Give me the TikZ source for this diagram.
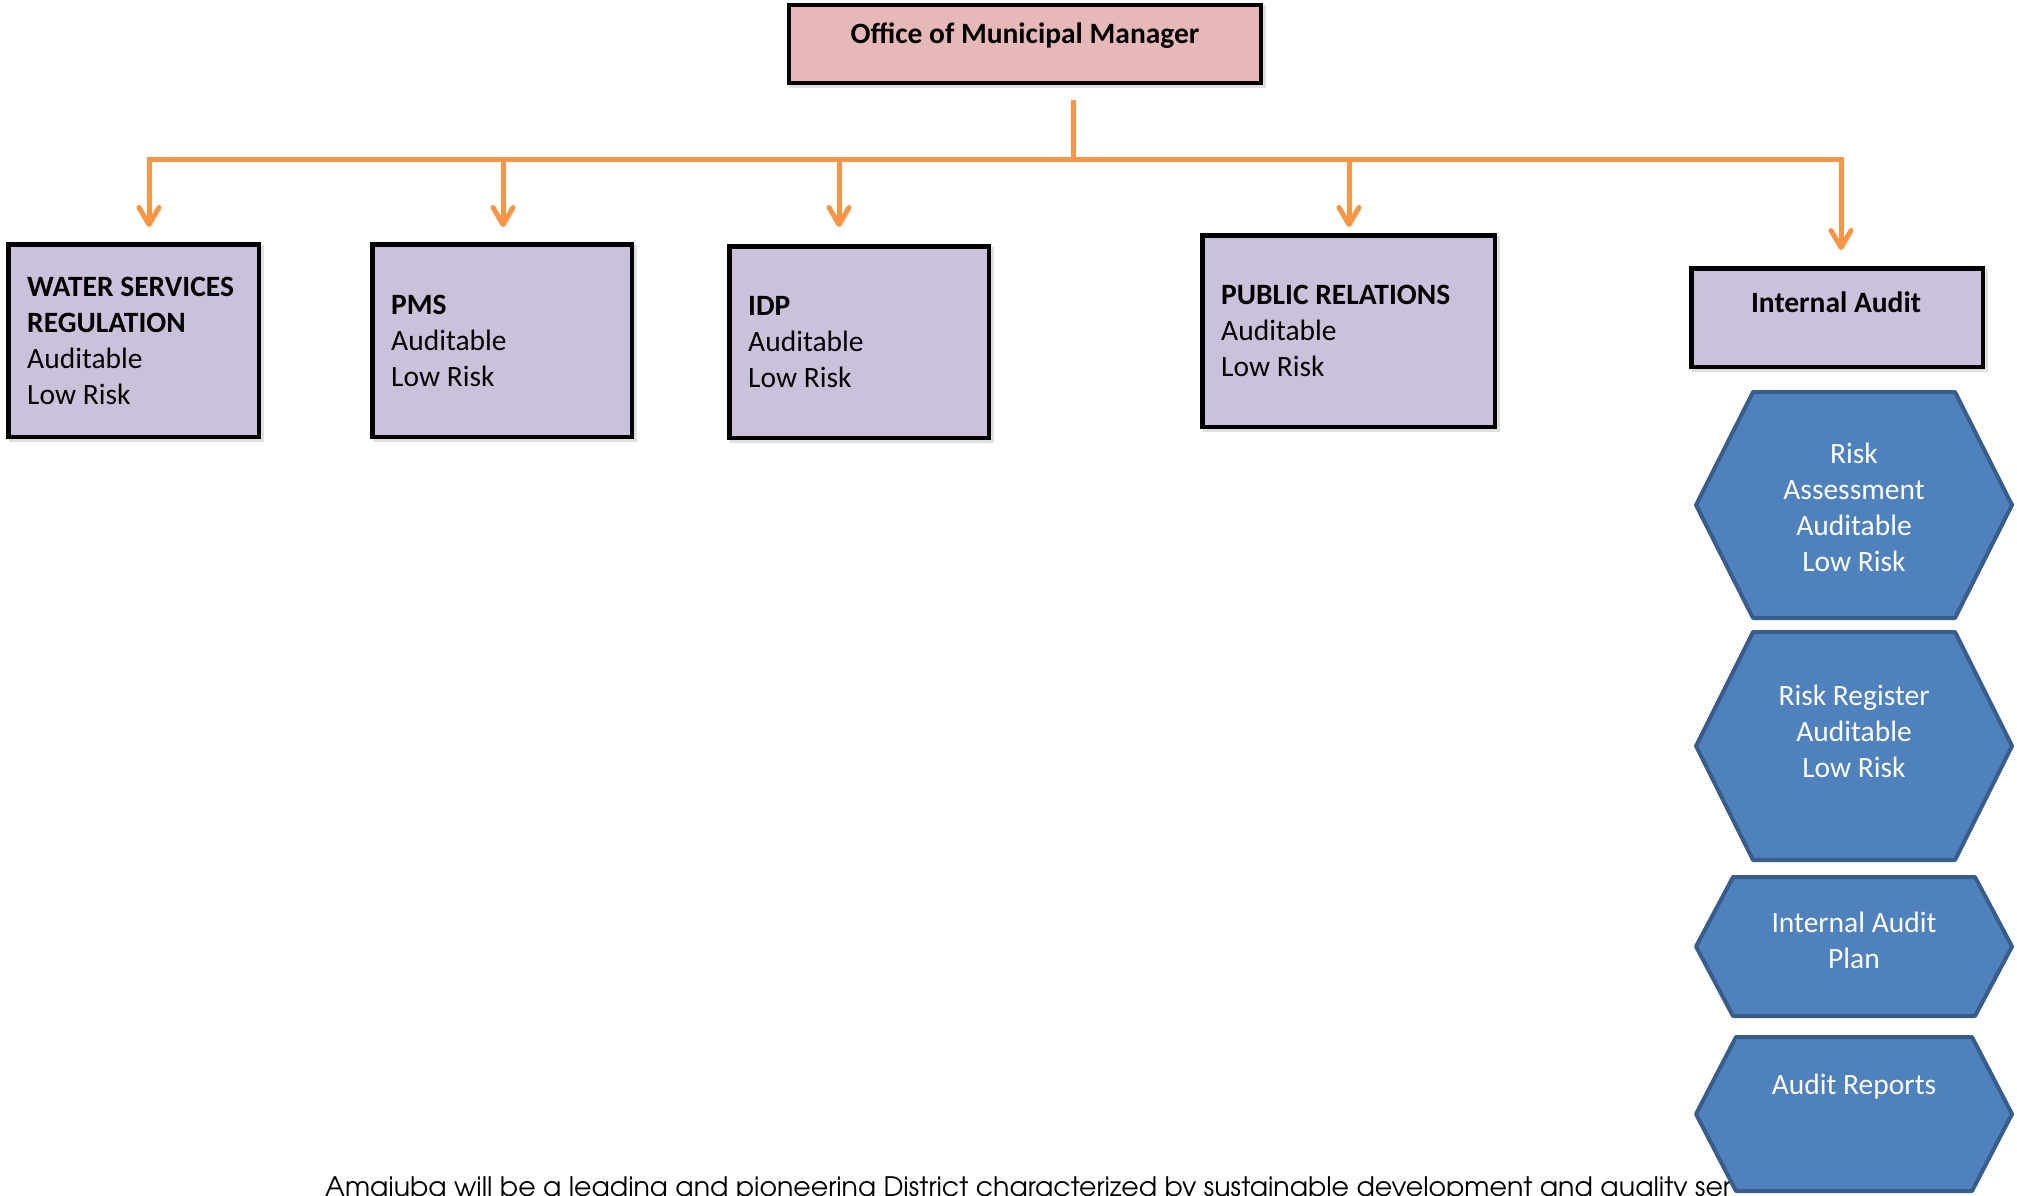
\documentclass[tikz,border=0pt]{standalone}
\usepackage{fontspec}
\setmainfont{Carlito}
\newfontfamily\mottofont{TeX Gyre Adventor}
\usetikzlibrary{arrows.meta}
\definecolor{orangeline}{HTML}{F79646}
\definecolor{lav}{HTML}{CCC1DA}
\definecolor{rose}{HTML}{E6B9B8}
\definecolor{hexfill}{HTML}{4F81BD}
\definecolor{hexline}{HTML}{385D8A}
\begin{document}
\begin{tikzpicture}[x=1pt,y=-1pt,
  every node/.style={font=\fontsize{29.5}{36}\selectfont},
  unit/.style={draw=black, line width=4.5pt, fill=lav, inner sep=0pt,
    preaction={draw=black, draw opacity=0.12, fill opacity=0, transform canvas={xshift=2.5pt,yshift=-2.5pt}}},
  lbl/.style={anchor=west, align=left, inner sep=0pt},
  link/.style={draw=orangeline, line width=5pt,
    preaction={draw=black, draw opacity=0.12, transform canvas={xshift=2.5pt,yshift=-2.5pt}}},
  tipped/.style={link, -{Straight Barb[length=17pt,width=20pt,round]}},
  hexa/.style={draw=hexline, line width=4pt, fill=hexfill, line join=round},
  hexlbl/.style={text=white, align=center, inner sep=0pt},
  pics/hexagon/.style args={#1/#2/#3}{code={
    \draw[hexa] (-#1/2,0) -- (-#1/2+#3,-#2/2) -- (#1/2-#3,-#2/2) -- (#1/2,0)
      -- (#1/2-#3,#2/2) -- (-#1/2+#3,#2/2) -- cycle;}}]
\useasboundingbox (0,0) rectangle (2017,1195);
\clip (0,0) rectangle (2017,1195);

% head office
\node[unit, fill=rose, minimum width=472, minimum height=78] (omm) at (1025,44) {};
\node[font=\bfseries\fontsize{29.5}{36}\selectfont, inner sep=0pt] (ommtxt) at (1025,36) {Office of Municipal Manager};

% units
\node[unit, minimum width=250.5, minimum height=192.5] (water) at (133.5,340.5) {};
\node[unit, minimum width=259.5, minimum height=192.5] (pms) at (502,340.5) {};
\node[unit, minimum width=259.5, minimum height=191.5] (idp) at (859,342) {};
\node[unit, minimum width=292.5, minimum height=191.5] (pr) at (1348.5,331) {};
\node[unit, minimum width=291.5, minimum height=98.5] (ia) at (1837,317.5) {};

\node[lbl] (watertxt) at ([xshift=21pt]water.west) {\textbf{WATER SERVICES}\\\textbf{REGULATION}\\Auditable\\Low Risk};
\node[lbl] (pmstxt) at ([xshift=21pt]pms.west) {\textbf{PMS}\\Auditable\\Low Risk};
\node[lbl] (idptxt) at ([xshift=21pt]idp.west) {\textbf{IDP}\\Auditable\\Low Risk};
\node[lbl] (prtxt) at ([xshift=21pt]pr.west) {\textbf{PUBLIC RELATIONS}\\Auditable\\Low Risk};
\node[font=\bfseries\fontsize{29.5}{36}\selectfont, inner sep=0pt] (iatxt) at (1836,302) {Internal Audit};

% connectors
\coordinate (stem) at (1073,100);
\coordinate (bus) at (1073,159);
\coordinate (tw) at (149,227);
\coordinate (tp) at (503,227);
\coordinate (ti) at (839,227);
\coordinate (tr) at (1349,227);
\coordinate (ta) at (1841,250);
\draw[link] (stem) -- (bus);
\draw[tipped] (bus) -| (tw);
\draw[tipped] (bus) -| (ta);
\draw[tipped] (tp |- bus) -- (tp);
\draw[tipped] (ti |- bus) -- (ti);
\draw[tipped] (tr |- bus) -- (tr);

% motto line along the foot
\node[anchor=base west, inner sep=0pt, font=\mottofont\fontsize{26.8}{31}\selectfont] (motto) at (325,1196)
  {Amajuba will be a leading and pioneering District characterized by sustainable development and quality ser};

% internal audit activities
\pic (h1) at (1854,505) {hexagon=316/226/57};
\pic (h2) at (1854,746) {hexagon=316/228/57};
\pic (h3) at (1854,946.5) {hexagon=316/139/37};
\pic (h4) at (1854,1114) {hexagon=316/154/40};
\node[hexlbl] (h1txt) at (1854,507) {Risk\\Assessment\\Auditable\\Low Risk};
\node[hexlbl] (h2txt) at (1854,731) {Risk Register\\Auditable\\Low Risk};
\node[hexlbl] (h3txt) at (1854,940) {Internal Audit\\Plan};
\node[hexlbl] (h4txt) at (1854,1087) {Audit Reports};
\end{tikzpicture}
\end{document}
